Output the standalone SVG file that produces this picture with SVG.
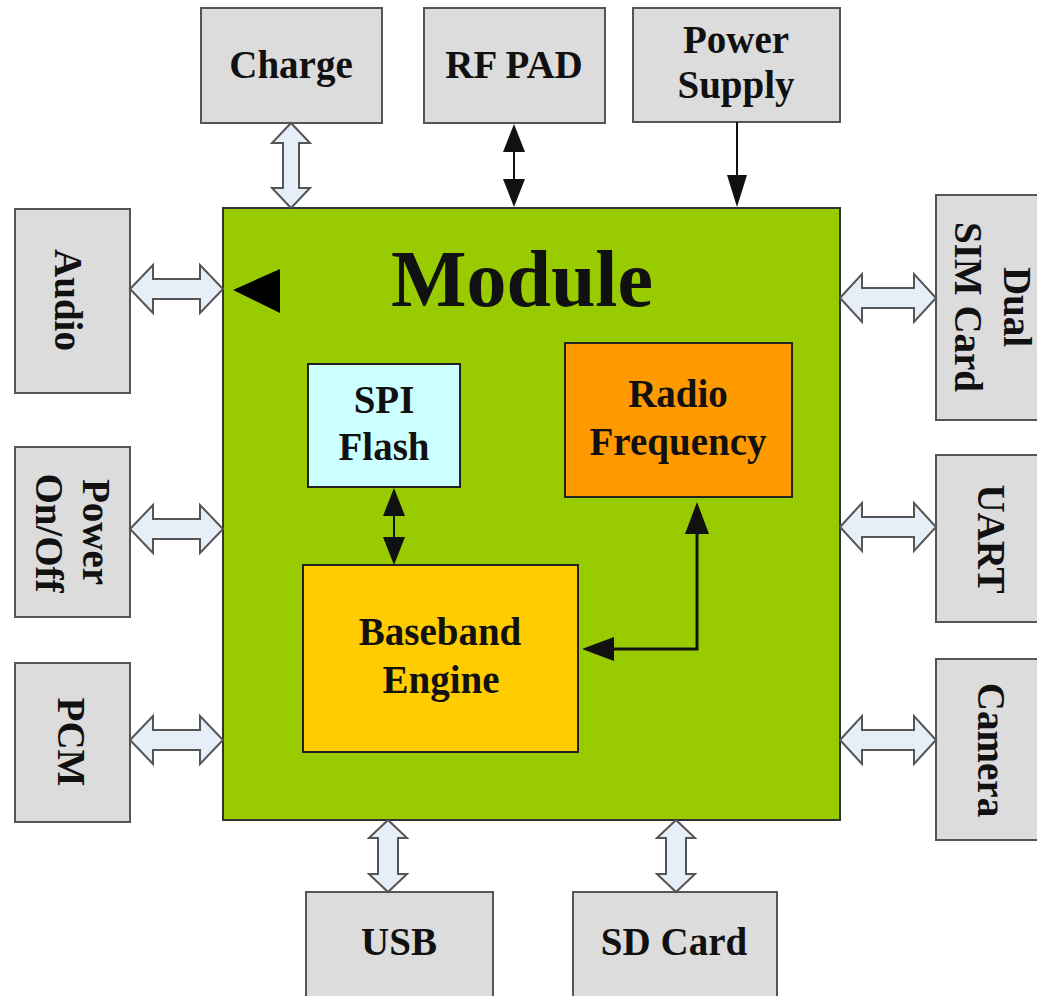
<svg xmlns="http://www.w3.org/2000/svg" width="1037" height="996" viewBox="0 0 1037 996">
<style>
.box{fill:#dcdcdc;stroke:#555;stroke-width:2}
.mod{fill:#99cc00;stroke:#333;stroke-width:2}
.in{stroke:#222;stroke-width:2}
.t{font-family:"Liberation Serif","Times New Roman",serif;font-weight:bold;font-size:39px;fill:#111;text-anchor:middle}
.big{font-size:80px}
.barrow{fill:#e6eef8;stroke:#555;stroke-width:2;stroke-linejoin:miter}
.ln{fill:none;stroke:#111;stroke-width:2}
.ln3{fill:none;stroke:#111;stroke-width:3}
</style>
<defs>
<marker id="ah" viewBox="0 0 28 22" refX="0" refY="11" markerWidth="28" markerHeight="22" markerUnits="userSpaceOnUse" orient="auto-start-reverse"><path d="M0,0 L28,11 L0,22 Z" fill="#111"/></marker>
<marker id="ah2" viewBox="0 0 32 24" refX="0" refY="12" markerWidth="32" markerHeight="24" markerUnits="userSpaceOnUse" orient="auto-start-reverse"><path d="M0,0 L32,12 L0,24 Z" fill="#111"/></marker>
<marker id="ah3" viewBox="0 0 32 20" refX="0" refY="10" markerWidth="32" markerHeight="20" markerUnits="userSpaceOnUse" orient="auto"><path d="M0,0 L32,10 L0,20 Z" fill="#111"/></marker>
</defs>

<g id="module">
<rect class="mod" x="223" y="208" width="617" height="612"/>
<text class="t big" x="522" y="306">Module</text>
<polygon points="233,290 280,269 280,313" fill="#000"/>
</g>

<g id="charge"><rect class="box" x="201" y="8" width="181" height="115"/><text class="t" x="291" y="78">Charge</text></g>
<g id="rfpad"><rect class="box" x="424" y="8" width="181" height="115"/><text class="t" x="514" y="78">RF PAD</text></g>
<g id="powersupply"><rect class="box" x="633" y="8" width="207" height="114"/><text class="t" x="736" y="53">Power</text><text class="t" x="736" y="98">Supply</text></g>

<g id="audio"><rect class="box" x="15" y="209" width="115" height="184"/><text class="t" transform="translate(55,300) rotate(90)">Audio</text></g>
<g id="poweronoff"><rect class="box" x="15" y="447" width="115" height="170"/><text class="t" transform="translate(83,532) rotate(90)">Power</text><text class="t" transform="translate(36,533) rotate(90)">On/Off</text></g>
<g id="pcm"><rect class="box" x="15" y="663" width="115" height="159"/><text class="t" transform="translate(58,742) rotate(90)">PCM</text></g>

<g id="dualsim"><rect class="box" x="936" y="195" width="110" height="225"/><text class="t" transform="translate(1004,307) rotate(90)">Dual</text><text class="t" transform="translate(955,307) rotate(90)">SIM Card</text></g>
<g id="uart"><rect class="box" x="936" y="455" width="110" height="167"/><text class="t" transform="translate(978,539) rotate(90)">UART</text></g>
<g id="camera"><rect class="box" x="936" y="659" width="110" height="181"/><text class="t" transform="translate(978,750) rotate(90)">Camera</text></g>

<g id="usb"><rect class="box" x="306" y="892" width="187" height="110"/><text class="t" x="399" y="955">USB</text></g>
<g id="sdcard"><rect class="box" x="573" y="892" width="204" height="110"/><text class="t" x="674" y="955">SD Card</text></g>

<g id="spiflash"><rect class="in" fill="#ccffff" x="308" y="364" width="152" height="123"/><text class="t" x="384" y="413">SPI</text><text class="t" x="384" y="460">Flash</text></g>
<g id="radiofrequency"><rect class="in" fill="#ff9900" x="565" y="343" width="227" height="154"/><text class="t" x="678" y="407">Radio</text><text class="t" x="678" y="455">Frequency</text></g>
<g id="baseband"><rect class="in" fill="#ffcc00" x="303" y="565" width="275" height="187"/><text class="t" x="440" y="645">Baseband</text><text class="t" x="441" y="693">Engine</text></g>

<g id="connectors">
<path class="barrow" d="M291,123 L310,143 L299,143 L299,188 L310,188 L291,208 L272,188 L283,188 L283,143 L272,143 Z"/>
<path class="ln" d="M514,152 L514,179" marker-start="url(#ah)" marker-end="url(#ah)"/>
<path class="ln" d="M737,122 L737,175" marker-end="url(#ah3)"/>
<path class="barrow" d="M130,289 L153,265 L153,279 L200,279 L200,265 L223,289 L200,313 L200,299 L153,299 L153,313 Z"/>
<path class="barrow" d="M130,529 L153,505 L153,519 L200,519 L200,505 L223,529 L200,553 L200,539 L153,539 L153,553 Z"/>
<path class="barrow" d="M130,740 L153,716 L153,730 L200,730 L200,716 L223,740 L200,764 L200,750 L153,750 L153,764 Z"/>
<path class="barrow" d="M840,298 L862,274 L862,288 L914,288 L914,274 L936,298 L914,322 L914,308 L862,308 L862,322 Z"/>
<path class="barrow" d="M840,527 L862,503 L862,517 L914,517 L914,503 L936,527 L914,551 L914,537 L862,537 L862,551 Z"/>
<path class="barrow" d="M840,740 L862,716 L862,730 L914,730 L914,716 L936,740 L914,764 L914,750 L862,750 L862,764 Z"/>
<path class="barrow" d="M388,820 L407,838 L398,838 L398,874 L407,874 L388,892 L369,874 L378,874 L378,838 L369,838 Z"/>
<path class="barrow" d="M676,820 L695,838 L686,838 L686,874 L695,874 L676,892 L657,874 L666,874 L666,838 L657,838 Z"/>
<path class="ln" d="M394,516 L394,537" marker-start="url(#ah)" marker-end="url(#ah)"/>
<path class="ln3" d="M697,534 L697,649 L614,649" marker-start="url(#ah2)" marker-end="url(#ah2)"/>
</g>
</svg>
